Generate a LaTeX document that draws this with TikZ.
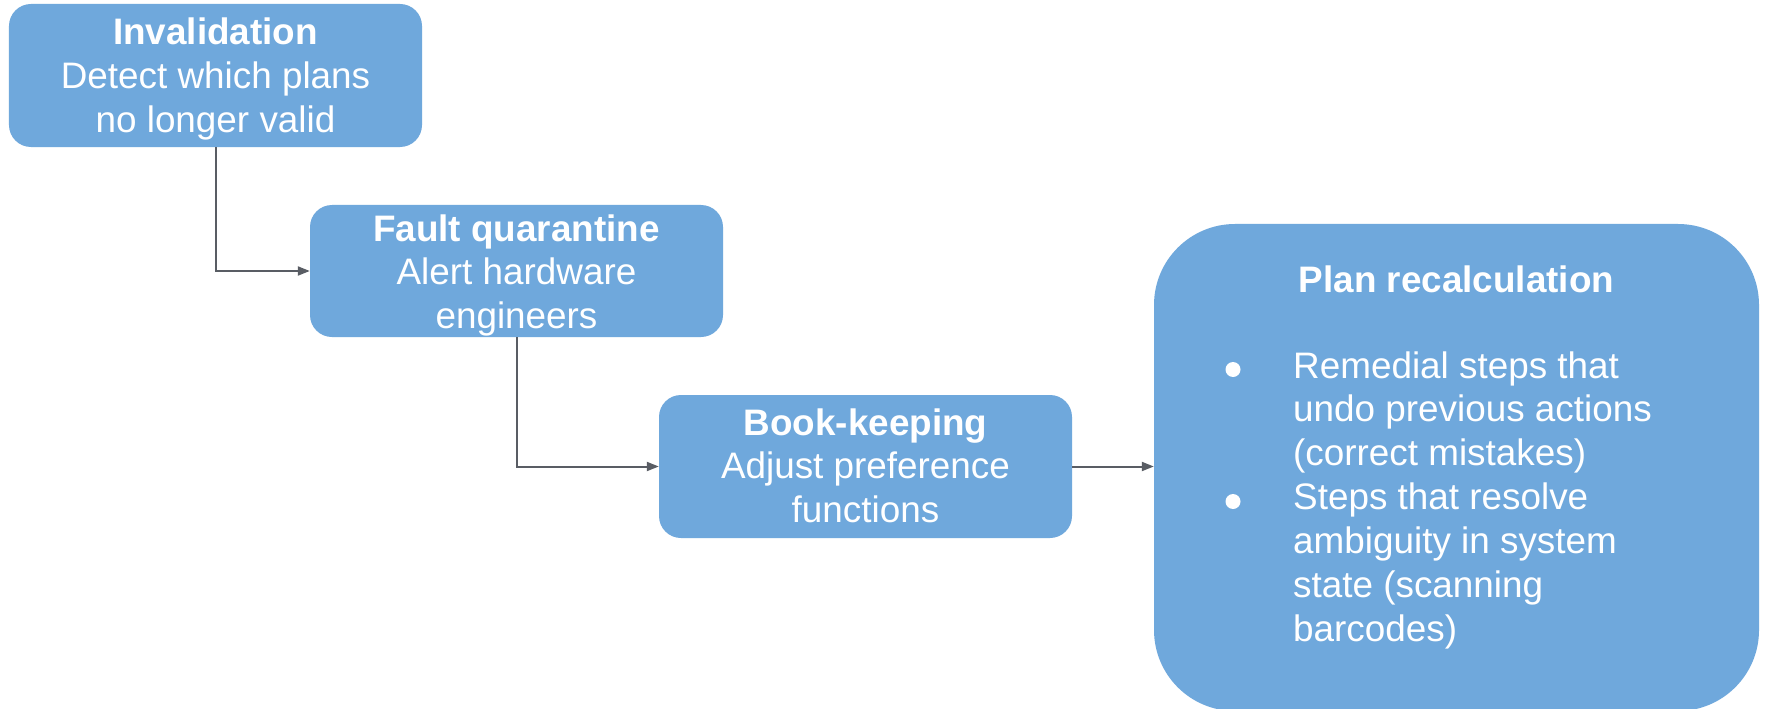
\documentclass[tikz,border=0pt]{standalone}
\usepackage{fontspec}
\setmainfont{Liberation Sans}
\usetikzlibrary{arrows.meta}
\definecolor{boxblue}{HTML}{6FA8DC}
\definecolor{linegrey}{HTML}{595D64}
\begin{document}
\begin{tikzpicture}[x=1bp,y=-1bp,
  stepbox/.style={draw=none, fill=boxblue, rounded corners=22bp, inner sep=0pt, minimum width=413bp},
  lbl/.style={text=white, inner sep=0pt, font=\fontsize{37}{44}\selectfont},
  dot/.style={circle, fill=white, draw=none, inner sep=0pt, minimum size=15bp},
  conn/.style={draw=linegrey, line width=2bp, -{Triangle[length=12bp,width=9bp]}}]
\fill[white] (0,0) rectangle (1765,709);
\useasboundingbox (0,0) rectangle (1765,709);

% step boxes
\node[stepbox, minimum height=143bp] (inv) at (215.5,75.5) {};
\node[lbl, anchor=base] (invt) at (215.5,45) {\begin{tabular}[t]{@{}c@{}}\textbf{Invalidation}\\Detect which plans\\no longer valid\end{tabular}};

\node[stepbox, minimum height=132bp] (fq) at (516.5,271) {};
\node[lbl, anchor=base] (fqt) at (516.5,241) {\begin{tabular}[t]{@{}c@{}}\textbf{Fault quarantine}\\Alert hardware\\engineers\end{tabular}};

\node[stepbox, minimum height=143bp] (bk) at (865.5,466.5) {};
\node[lbl, anchor=base] (bkt) at (865.5,435) {\begin{tabular}[t]{@{}c@{}}\textbf{Book-keeping}\\Adjust preference\\functions\end{tabular}};

% plan recalculation
\node[stepbox, rounded corners=81bp, minimum width=605bp, minimum height=487bp] (plan) at (1456.5,467.5) {};
\node[lbl, anchor=base] (plant) at (1456.5,292) {\textbf{Plan recalculation}};
\node[lbl, anchor=base west] (planl) at (1293,378) {\begin{tabular}[t]{@{}l@{}}Remedial steps that\\undo previous actions\\(correct mistakes)\\Steps that resolve\\ambiguity in system\\state (scanning\\barcodes)\end{tabular}};
\node[dot] (b1) at (1233,369.5) {};
\node[dot] (b2) at (1233,501.5) {};

% connectors
\draw[conn] (inv.south) |- (fq.west);
\draw[conn] (fq.south) |- (bk.west);
\draw[conn] (bk.east) -- (bk.east -| plan.west);
\end{tikzpicture}
\end{document}
